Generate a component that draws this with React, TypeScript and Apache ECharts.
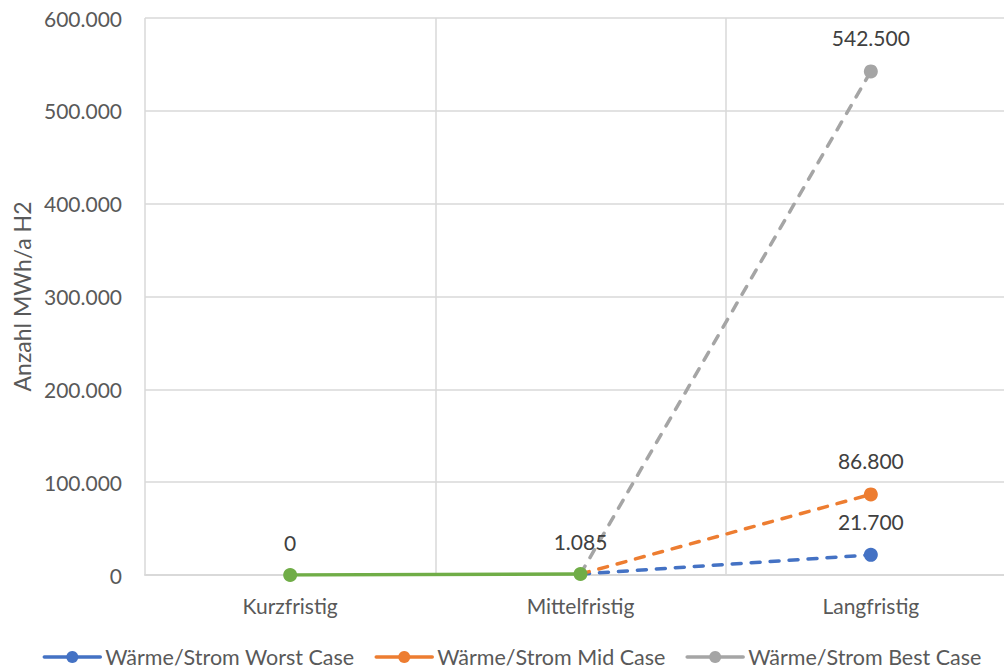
import React, { useEffect, useRef } from "react";
import * as echarts from "echarts";

const categories = ["Kurzfristig", "Mittelfristig", "Langfristig"];
const worstCase: (number | null)[] = [null, 1085, 21700];
const midCase: (number | null)[] = [null, 1085, 86800];
const bestCase: (number | null)[] = [null, 1085, 542500];
const current: (number | null)[] = [0, 1085, null];
const yTicks = { min: 0, max: 600000, interval: 100000 };

const fmt = (v: number) => String(Math.round(v)).replace(/\B(?=(\d{3})+(?!\d))/g, ".");
const FONT = "Lato";

export default function App() {
  const ref = useRef<HTMLDivElement>(null);
  useEffect(() => {
    if (!ref.current) return;
    const chart = echarts.init(ref.current, undefined, { renderer: "svg" });
    const dashed = (name: string, data: (number | null)[], color: string) => ({
      name,
      type: "line",
      data: data.map((v, i) => (i === 2 ? { value: v } : { value: v, symbol: "none", label: { show: false } })),
      symbol: "circle",
      symbolSize: 14,
      itemStyle: { color },
      lineStyle: { color, width: 3.5, type: [9, 10], cap: "round" },
      label: {
        show: true,
        position: "top",
        distance: 16,
        color: "#404040",
        fontSize: 21,
        fontFamily: FONT,
        formatter: (p: any) => fmt(p.value),
      },
      z: 2,
    });
    chart.setOption({
      animation: false,
      textStyle: { fontFamily: FONT },
      grid: { left: 145, right: 8, top: 18, bottom: 95, containLabel: false },
      legend: {
        data: ["Wärme/Strom Worst Case", "Wärme/Strom Mid Case", "Wärme/Strom Best Case"],
        top: 646,
        left: "center",
        padding: 0,
        itemWidth: 56,
        itemHeight: 15,
        itemGap: 20,
        lineStyle: { type: "solid", width: 3.5 },
        textStyle: { color: "#595959", fontSize: 21.5, fontFamily: FONT, padding: [0, 0, 0, 0] },
      },
      xAxis: {
        type: "category",
        data: categories,
        boundaryGap: true,
        axisLine: { lineStyle: { color: "#d9d9d9", width: 2 } },
        axisTick: { show: false },
        splitLine: { show: true, lineStyle: { color: "#d9d9d9", width: 1.5 } },
        axisLabel: { color: "#595959", fontSize: 21, fontFamily: FONT, margin: 20 },
      },
      yAxis: {
        type: "value",
        min: yTicks.min,
        max: yTicks.max,
        interval: yTicks.interval,
        name: "Anzahl MWh/a H2",
        nameLocation: "middle",
        nameGap: 112,
        nameTextStyle: { color: "#595959", fontSize: 23, fontFamily: FONT },
        axisLine: { show: false },
        axisTick: { show: false },
        splitLine: { lineStyle: { color: "#d9d9d9", width: 1.5 } },
        axisLabel: { color: "#595959", fontSize: 21, fontFamily: FONT, margin: 23, formatter: (v: number) => fmt(v) },
      },
      series: [
        dashed("Wärme/Strom Worst Case", worstCase, "#4472C4"),
        dashed("Wärme/Strom Mid Case", midCase, "#ED7D31"),
        dashed("Wärme/Strom Best Case", bestCase, "#A5A5A5"),
        {
          name: "Aktuell",
          type: "line",
          data: current,
          symbol: "circle",
          symbolSize: 14,
          itemStyle: { color: "#70AD47" },
          lineStyle: { color: "#70AD47", width: 3.5 },
          label: {
            show: true,
            position: "top",
            distance: 15,
            color: "#404040",
            fontSize: 21,
            fontFamily: FONT,
            formatter: (p: any) => fmt(p.value),
          },
          z: 3,
        },
      ],
    });
    return () => chart.dispose();
  }, []);
  return (
    <div style={{ width: 1004, height: 670, position: "absolute", left: 0, top: 0, overflow: "hidden" }}>
      <div ref={ref} style={{ width: 1024, height: 670, position: "absolute", left: 0, top: 0 }} />
    </div>
  );
}
